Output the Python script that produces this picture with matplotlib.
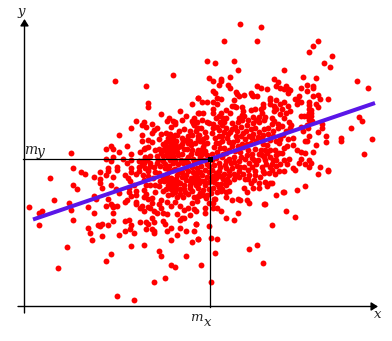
import matplotlib
matplotlib.use("Agg")
import matplotlib.pyplot as plt

# scatter values (x, y), grouped by region
upper_right = [(240,24),(261,27),(224,41),(257,41),(318,41),(313,46),(309,52),(332,56),(324,63),(330,67),(207,61),(215,63),(234,61),(238,70),(284,70),(303,77),(316,78),(357,81),(368,88),(209,78),(213,81),(221,79),(221,81),(219,85),(230,77),(228,85),(230,88),(257,86),(261,88),(267,89),(274,79),(278,82),(276,86),(280,88),(284,89),(286,86),(288,89),(290,90),(288,93),(301,88),(307,85),(313,86),(313,88),(307,91),(213,91),(215,93),(236,92),(237,94),(251,93),(252,95),(244,95),(239,96),(257,96),(253,96),(313,96),(318,95),(320,99),(328,99),(299,96),(295,99),(298,101),(301,102),(297,104),(198,98),(217,98),(221,99),(234,100),(270,98),(270,100),(276,100),(202,102),(207,102),(213,102),(217,104),(263,104),(263,107),(270,104),(274,106),(280,104),(284,102),(288,106),(282,109),(290,111),(286,113),(309,102),(309,105),(316,104),(318,107),(309,109),(311,110),(309,113),(311,113),(232,106),(234,106),(236,107),(242,107),(251,110),(255,109),(261,109),(275,108),(274,111),(276,109),(226,110),(230,113),(213,109),(213,113),(199,113),(203,113),(243,111),(242,115),(262,113),(259,117),(265,117),(280,114),(284,118),(301,116),(304,116),(307,116),(311,116),(221,113),(219,116),(216,118),(197,122),(202,120),(207,122),(223,118),(226,118),(220,122),(224,122),(239,118),(244,116),(242,120),(238,122),(248,120),(253,117),(256,120),(253,123),(259,122),(264,120),(272,118),(274,121),(272,124),(278,124),(278,128),(289,122),(291,125),(290,128),(301,127),(307,125),(311,122),(309,120),(312,121),(308,128),(322,124),(322,128),(318,132),(303,131),(309,136),(326,136),(326,142),(341,138),(341,141),(351,128),(359,117),(362,121),(372,139),(364,154),(316,145),(313,152),(305,141),(307,141),(293,138),(293,145),(297,150),(301,152),(305,153),(279,153),(275,150),(270,150),(287,146),(284,148),(279,143),(276,141),(280,139),(263,135),(268,134),(273,136),(259,132),(253,134),(255,128),(264,129),(249,136),(243,133),(237,131),(232,123),(232,129),(228,134),(222,136),(219,130),(213,128),(209,123),(201,128),(197,128),(205,132),(215,138),(207,143),(203,139),(198,136),(229,142),(237,140),(245,139),(242,144),(224,148),(229,150),(235,151),(243,147),(251,143),(256,141),(263,144),(267,145),(255,149),(261,150),(252,154),(259,154),(264,157),(267,153),(203,147),(214,147),(219,143),(198,150),(202,154),(217,152),(223,154)]
mid_right = [(289,159),(287,164),(301,159),(299,163),(309,160),(305,164),(311,163),(309,167),(320,167),(328,170),(293,168),(273,160),(276,160),(272,164),(276,166),(229,159),(234,157),(239,161),(245,159),(249,163),(254,160),(256,164),(265,160),(266,164),(219,163),(225,165),(231,163),(237,166),(244,167)]
lower_right = [(284,171),(295,170),(318,174),(328,171),(305,186),(297,190),(283,192),(284,192),(276,195),(264,204),(265,204),(286,211),(295,217),(272,225),(257,245),(249,249),(263,263),(215,253),(201,265),(211,282),(209,226),(211,238),(217,239),(198,239),(226,218),(234,220),(238,213),(221,211),(217,208),(213,208),(205,208),(205,213),(196,211),(196,224),(232,200),(238,199),(240,200),(247,200),(249,203),(226,197),(215,199),(213,203),(247,192),(244,188),(253,188),(259,188),(259,183),(265,182),(267,186),(270,183),(272,183),(251,183),(249,175),(254,180),(245,179),(239,177),(234,179),(229,182),(226,182),(255,171),(264,173),(269,173),(255,175),(239,171),(229,171),(219,171),(237,175),(217,184),(221,184),(226,185),(217,192),(221,191),(226,192),(229,191),(212,179),(216,178),(223,179),(197,173),(202,175),(207,177),(198,179),(199,183),(205,185),(209,182),(198,188),(203,190),(209,189),(199,196),(203,195),(207,195),(211,193),(214,199),(197,201),(209,203)]
lower_left = [(50,178),(29,207),(42,211),(39,213),(39,225),(54,200),(69,203),(71,210),(73,220),(73,185),(77,189),(67,247),(58,268),(106,261),(111,254),(117,296),(134,300),(154,282),(165,278),(171,265),(175,267),(161,256),(159,251),(186,256),(144,245),(131,246),(102,236),(92,240),(90,233),(88,228),(119,235),(134,233),(125,231),(130,229),(131,225),(98,225),(100,226),(102,224),(108,225),(113,221),(125,221),(129,220),(140,222),(146,222),(148,224),(146,229),(152,218),(154,222),(152,229),(154,231),(154,233),(163,221),(165,224),(171,228),(167,231),(171,240),(177,235),(180,228),(186,231),(194,231),(192,242),(198,239),(180,220),(182,218),(184,218),(190,215),(196,224),(94,213),(113,213),(113,207),(106,206),(111,204),(113,206),(117,206),(88,207),(108,199),(94,196),(96,199),(102,188),(100,183),(100,179),(94,177),(113,177),(111,185),(116,189),(119,193),(81,172),(85,174),(100,172),(106,175),(108,171),(117,170),(125,175),(128,178),(130,181),(134,185),(129,188),(129,192),(131,196),(136,191),(136,195),(125,202),(127,200),(136,202),(136,204),(142,206),(140,208),(144,211),(144,190),(146,194),(144,197),(148,199),(146,185),(150,185),(155,192),(152,198),(152,203),(148,207),(150,208),(154,211),(157,213),(161,200),(159,204),(161,208),(163,213),(167,214),(167,202),(171,206),(175,202),(180,206),(184,210),(177,214),(188,208),(192,203),(194,209),(194,197),(198,196),(177,197),(180,194),(185,192),(190,188),(196,185),(155,185),(159,186),(164,181),(169,183),(171,189),(175,192),(175,186),(180,189),(184,185),(190,181),(194,177),(186,175),(167,174),(171,178),(175,181),(177,175),(182,177),(180,172),(188,171),(155,172),(148,171),(143,175),(148,176),(139,171),(136,174),(131,172),(144,180),(153,178),(159,173),(163,177),(168,179),(172,179),(176,179),(170,182),(174,182),(178,182),(168,185),(172,185),(176,185)]
upper_left = [(173,75),(115,81),(146,86),(148,103),(148,107),(198,98),(192,104),(180,111),(161,114),(198,113),(186,116),(182,120),(169,118),(167,121),(173,121),(175,122),(175,124),(136,121),(144,122),(142,125),(146,127),(152,124),(131,128),(157,128),(171,127),(184,129),(193,123),(194,118),(192,121),(194,125),(198,128),(71,153),(73,168),(106,149),(111,146),(113,149),(119,135),(127,146),(119,152),(106,159),(113,157),(111,161),(108,168),(117,167),(123,159),(127,163),(131,154),(131,160),(131,168),(142,135),(142,141),(140,152),(152,133),(154,130),(148,140),(152,142),(145,148),(148,147),(144,149),(159,139),(161,134),(166,133),(170,134),(163,144),(159,149),(157,156),(150,156),(145,157),(139,161),(144,163),(150,163),(139,167),(145,168),(154,167),(157,163),(164,149),(169,141),(173,139),(175,144),(171,145),(168,147),(173,149),(178,147),(167,153),(173,152),(177,152),(182,154),(187,149),(163,156),(173,156),(178,155),(168,157),(165,164),(169,166),(165,168),(173,163),(178,164),(183,141),(182,144),(184,149),(191,145),(190,141),(195,143),(198,139),(199,135),(175,135),(177,135),(182,138),(188,136),(192,135),(190,131),(196,131),(179,131),(197,153),(193,159),(191,154),(188,157),(194,163),(198,161),(183,163),(188,163),(186,168),(192,167),(197,168),(168,138),(172,142),(176,141),(170,137),(166,142),(174,147),(170,150),(166,146)]
center_left = [(200,141),(204,144),(206,137),(201,150),(205,151),(207,155),(200,157),(204,160),(207,164),(201,166),(205,170),(200,172),(193,172),(197,177),(191,178),(201,181),(194,182),(204,181),(190,185),(186,180),(182,172),(178,170),(173,170),(169,171),(165,177),(180,183),(176,189),(170,186),(166,189),(184,189),(192,191),(188,194),(200,193),(206,198),(183,197),(172,194),(168,195),(163,191),(160,181),(175,169),(192,150),(188,143),(186,140),(180,146),(176,150),(171,154),(166,151),(170,160),(175,160),(181,160),(186,160),(142,161),(147,160),(150,166),(142,165),(148,169),(160,166),(163,161),(158,160),(155,150),(161,153)]
center_right = [(213,124),(217,127),(222,125),(226,128),(230,132),(235,127),(241,127),(247,125),(251,129),(246,131),(241,136),(236,136),(224,132),(219,136),(212,133),(216,143),(222,141),(227,138),(233,142),(238,146),(247,144),(252,138),(258,137),(262,139),(268,128),(273,131),(282,126),(286,131),(283,135),(288,139),(270,140),(265,150),(248,150),(240,152),(232,146),(226,153),(220,148),(212,154),(212,160),(216,158),(222,157),(226,161),(234,162),(241,157),(247,155),(252,158),(258,160),(262,155),(270,157),(276,155),(282,153),(284,160),(280,164),(270,167),(262,167),(252,167),(248,170),(240,167),(232,168),(226,168),(220,167),(214,165),(212,170),(216,173),(220,176),(224,174),(229,175),(234,174),(243,174),(248,179),(214,182),(219,187),(213,188),(222,189),(227,179),(260,177),(263,171),(272,170),(275,174),(279,171),(213,176),(209,172),(209,166)]
all_points = upper_left + upper_right + mid_right + lower_left + lower_right + center_left + center_right

fit_x = [33, 375]
fit_y = [219.5, 103]
mean_x = 210.5
mean_y = 159

x_values = [p[0] for p in all_points]
y_values = [p[1] for p in all_points]

fig = plt.figure(figsize=(3.92, 3.41), dpi=100)
ax = fig.add_axes([0, 0, 1, 1])
ax.set_xlim(0, 392)
ax.set_ylim(341, 0)
ax.axis("off")

ax.scatter(x_values, y_values, s=18, c="#ff0000", linewidths=0, zorder=2)
ax.plot(fit_x, fit_y, color="#5a16e8", lw=2.9, solid_capstyle="butt", zorder=3)

# axes with arrow heads
ax.annotate("", xy=(378, 306.5), xytext=(18, 306.5),
            arrowprops=dict(arrowstyle="-|>,head_width=0.25,head_length=0.4", color="black", lw=1, shrinkA=0, shrinkB=0), zorder=4)
ax.annotate("", xy=(24.5, 19), xytext=(24.5, 313),
            arrowprops=dict(arrowstyle="-|>,head_width=0.25,head_length=0.4", color="black", lw=1, shrinkA=0, shrinkB=0), zorder=4)
ax.plot([23, mean_x], [mean_y, mean_y], color="black", lw=0.9, zorder=4)
ax.plot([mean_x, mean_x], [mean_y, 306.5], color="black", lw=0.9, zorder=4)
ax.plot([mean_x], [mean_y], "s", color="black", ms=3.6, mew=0, zorder=5)

txt = dict(family="DejaVu Serif", style="italic", color="#222222", ha="left", va="baseline")
ax.text(18, 15, "y", fontsize=9.5, **txt)
ax.text(24, 154, "m", fontsize=10, **txt)
ax.text(37, 156, "y", fontsize=10, **txt)
ax.text(190, 321, "m", fontsize=9.5, **txt)
ax.text(204, 326, "x", fontsize=9.5, **txt)
ax.text(374, 318, "x", fontsize=9.5, **txt)

fig.savefig("out.png", dpi=100)
